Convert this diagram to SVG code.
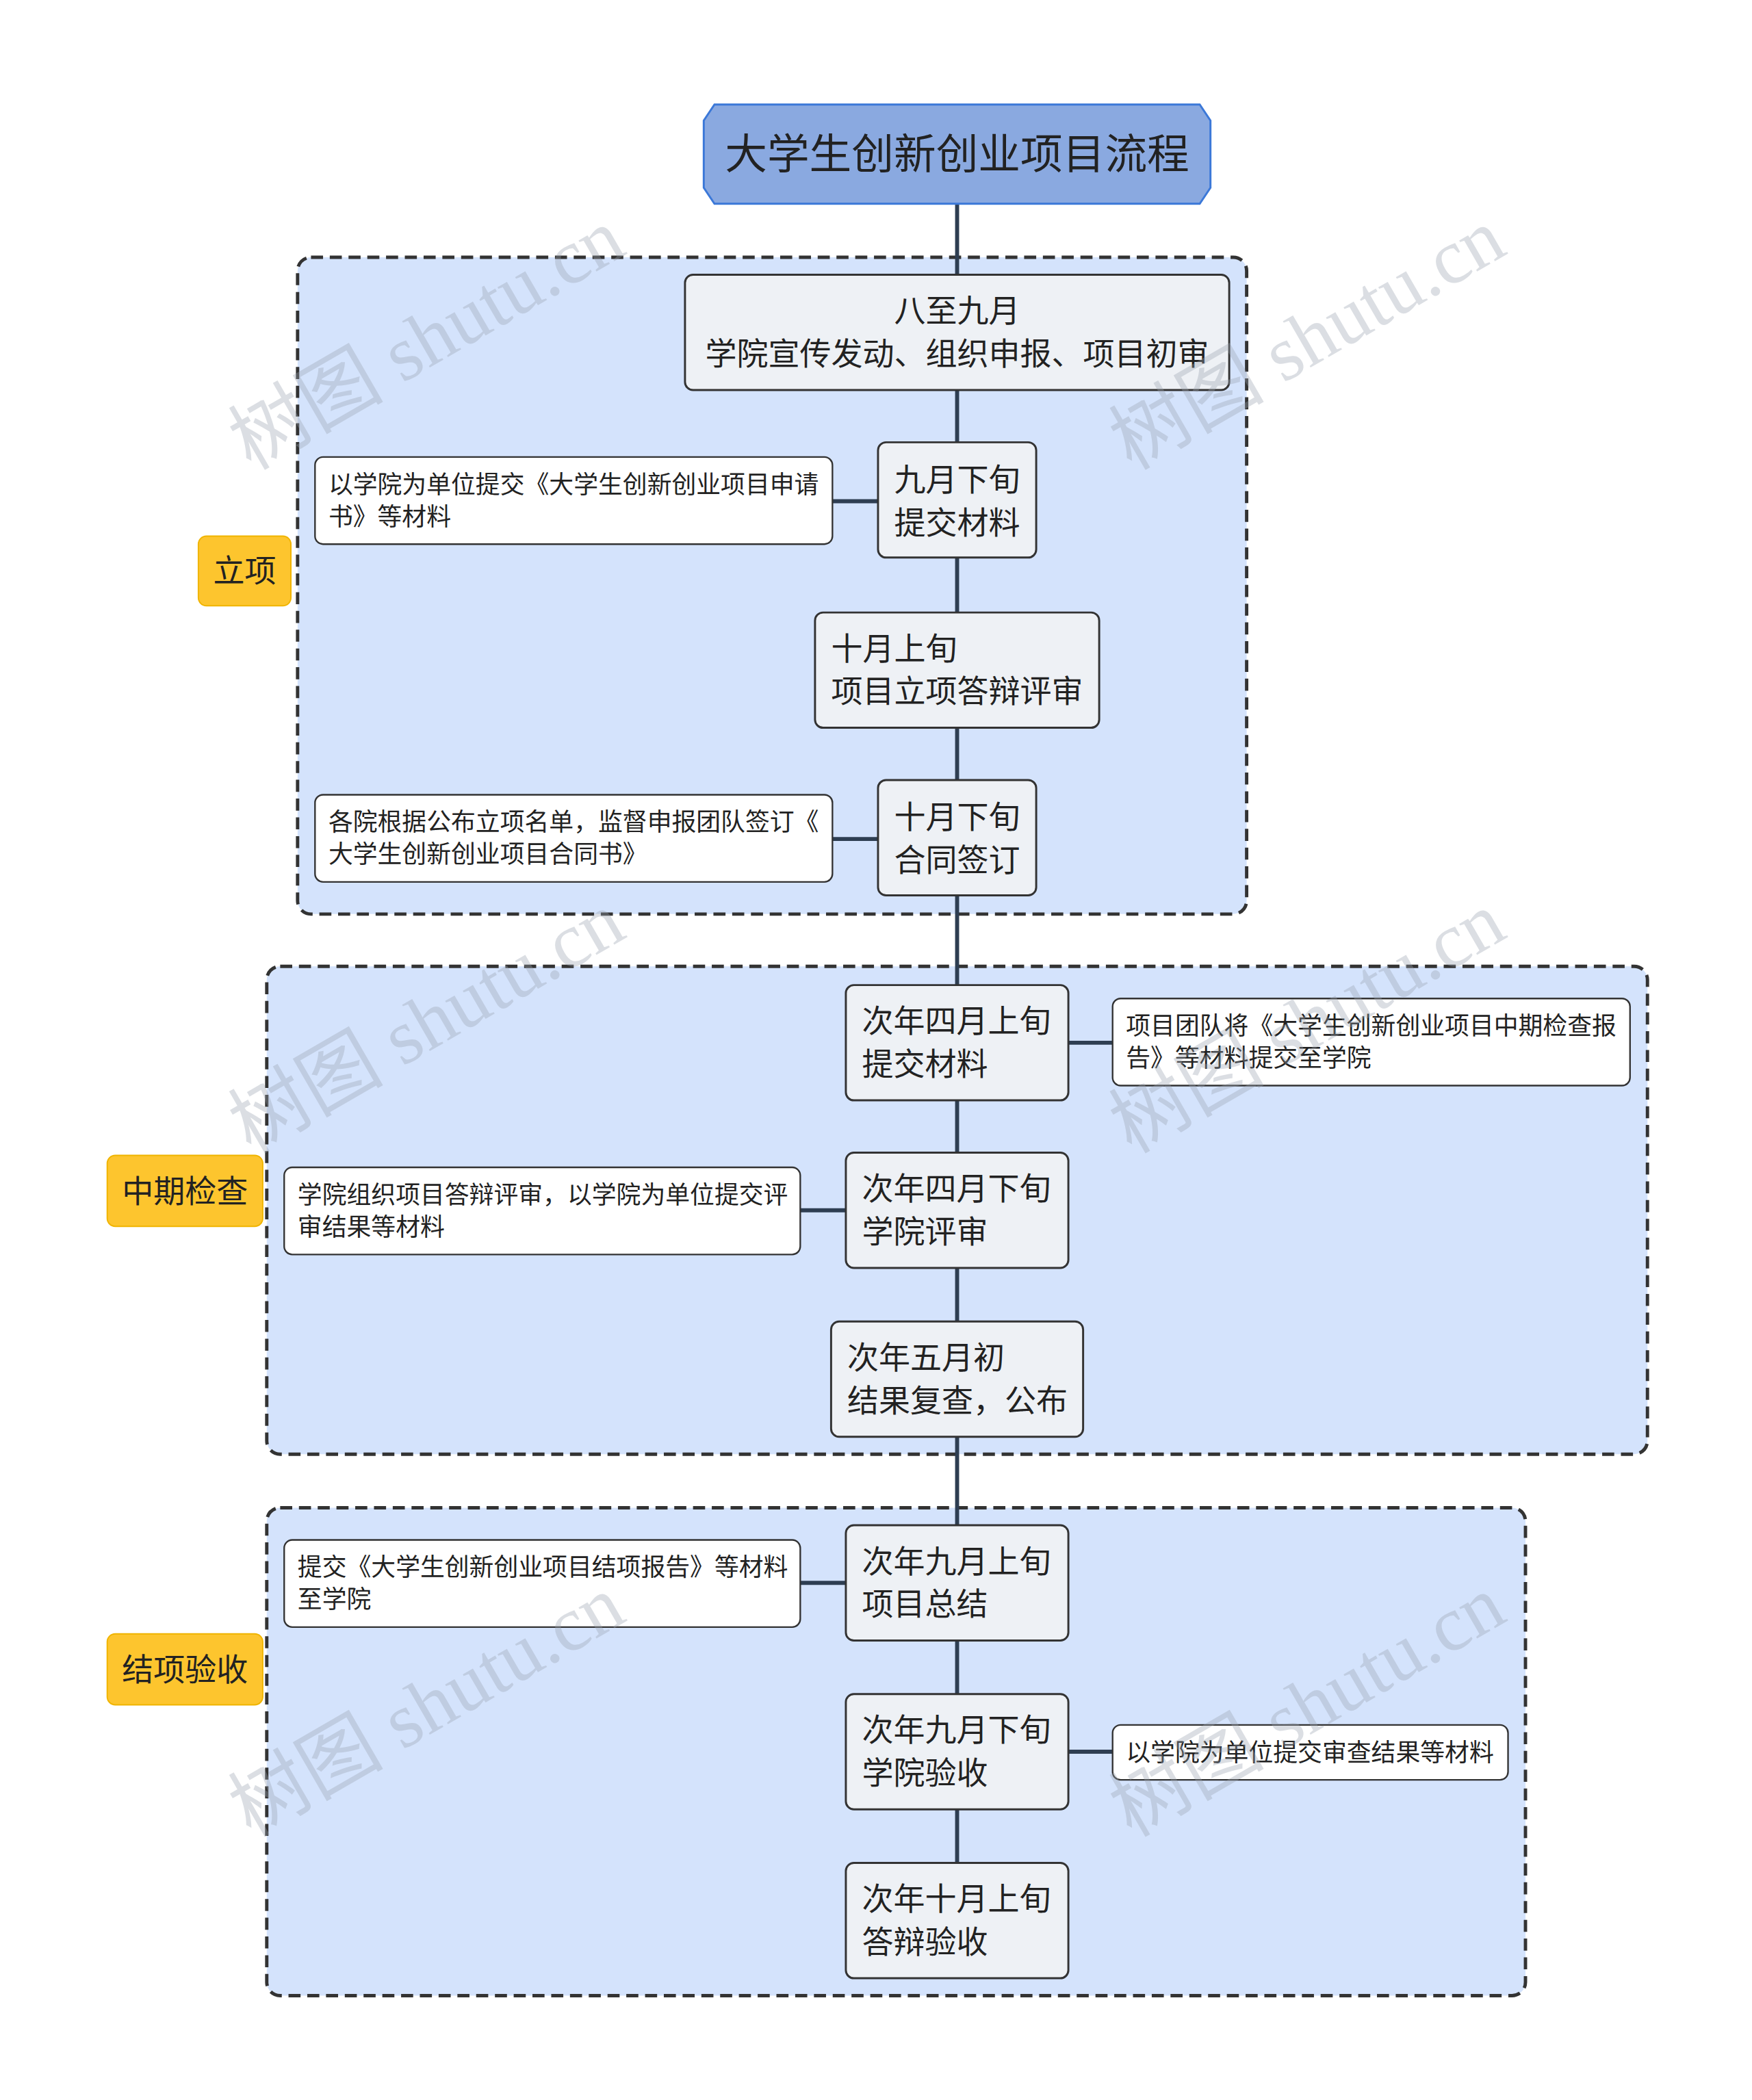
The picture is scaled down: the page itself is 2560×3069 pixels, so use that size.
<svg xmlns="http://www.w3.org/2000/svg" width="2560" height="3069" viewBox="0 0 2560 3069">
<style>
.grp{fill:#d4e3fc;stroke:#333;stroke-width:2.5;stroke-dasharray:9 5}
.lab{fill:#fdc52e;stroke:#f0b400;stroke-width:1}
.nd{fill:#eef1f5;stroke:#333;stroke-width:1.5}
.sd{fill:#fff;stroke:#333;stroke-width:1.2}
.ln{stroke:#2e3e52;stroke-width:3;fill:none}
text{font-family:"Noto Sans CJK SC","Noto Sans",sans-serif;fill:#222}
.t22{font-size:23.5px}
.t17{font-size:18.3px}
.wm{font-family:"Liberation Serif","Noto Sans CJK SC",serif;font-size:58px;fill:#9aa3b0;opacity:0.35}
</style>
<rect width="2560" height="3069" fill="#fff"/>
<g transform="scale(1.9587)">
<g id="groups">
<rect class="grp" x="222" y="192" width="708" height="490" rx="10"/>
<rect class="grp" x="199" y="721" width="1030" height="364" rx="10"/>
<rect class="grp" x="199" y="1125" width="939" height="364" rx="10"/>
</g>
<g id="connectors">
<line class="ln" x1="714" y1="152" x2="714" y2="1390"/>
<line class="ln" x1="621" y1="374" x2="655" y2="374"/>
<line class="ln" x1="621" y1="626" x2="655" y2="626"/>
<line class="ln" x1="797" y1="778" x2="830" y2="778"/>
<line class="ln" x1="597" y1="903" x2="631" y2="903"/>
<line class="ln" x1="597" y1="1181" x2="631" y2="1181"/>
<line class="ln" x1="797" y1="1307" x2="830" y2="1307"/>
</g>
<g id="title">
<polygon points="533,78 895,78 903,90 903,140 895,152 533,152 525,140 525,90" fill="#8aa9e0" stroke="#3b78d8" stroke-width="1.5"/>
<text x="714" y="126" text-anchor="middle" style="font-size:31.5px">大学生创新创业项目流程</text>
</g>
<g id="label1"><rect class="lab" x="148" y="400" width="69" height="52" rx="6"/><text class="t22" x="182.5" y="434" text-anchor="middle">立项</text></g>
<g id="label2"><rect class="lab" x="80" y="862" width="116" height="53" rx="6"/><text class="t22" x="138" y="897" text-anchor="middle">中期检查</text></g>
<g id="label3"><rect class="lab" x="80" y="1219" width="116" height="53" rx="6"/><text class="t22" x="138" y="1254" text-anchor="middle">结项验收</text></g>
<g id="nA"><rect class="nd" x="511" y="205" width="406" height="86" rx="6"/><text class="t22" x="714" y="240" text-anchor="middle">八至九月</text><text class="t22" x="714" y="272" text-anchor="middle">学院宣传发动、组织申报、项目初审</text></g>
<g id="nB"><rect class="nd" x="655" y="330" width="118" height="86" rx="6"/><text class="t22" x="667" y="366">九月下旬</text><text class="t22" x="667" y="398">提交材料</text></g>
<g id="sB"><rect class="sd" x="235" y="341" width="386" height="65" rx="6"/><text class="t17" x="245" y="368">以学院为单位提交《大学生创新创业项目申请</text><text class="t17" x="245" y="392">书》等材料</text></g>
<g id="nC"><rect class="nd" x="608" y="457" width="212" height="86" rx="6"/><text class="t22" x="620" y="492">十月上旬</text><text class="t22" x="620" y="524">项目立项答辩评审</text></g>
<g id="nD"><rect class="nd" x="655" y="582" width="118" height="86" rx="6"/><text class="t22" x="667" y="618">十月下旬</text><text class="t22" x="667" y="650">合同签订</text></g>
<g id="sD"><rect class="sd" x="235" y="593" width="386" height="65" rx="6"/><text class="t17" x="245" y="620">各院根据公布立项名单，监督申报团队签订《</text><text class="t17" x="245" y="644">大学生创新创业项目合同书》</text></g>
<g id="nE"><rect class="nd" x="631" y="735" width="166" height="86" rx="6"/><text class="t22" x="643" y="770">次年四月上旬</text><text class="t22" x="643" y="802">提交材料</text></g>
<g id="sE"><rect class="sd" x="830" y="745" width="386" height="65" rx="6"/><text class="t17" x="840" y="772">项目团队将《大学生创新创业项目中期检查报</text><text class="t17" x="840" y="796">告》等材料提交至学院</text></g>
<g id="nF"><rect class="nd" x="631" y="860" width="166" height="86" rx="6"/><text class="t22" x="643" y="895">次年四月下旬</text><text class="t22" x="643" y="927">学院评审</text></g>
<g id="sF"><rect class="sd" x="212" y="871" width="385" height="65" rx="6"/><text class="t17" x="222" y="898">学院组织项目答辩评审，以学院为单位提交评</text><text class="t17" x="222" y="922">审结果等材料</text></g>
<g id="nG"><rect class="nd" x="620" y="986" width="188" height="86" rx="6"/><text class="t22" x="632" y="1021">次年五月初</text><text class="t22" x="632" y="1053">结果复查，公布</text></g>
<g id="nH"><rect class="nd" x="631" y="1138" width="166" height="86" rx="6"/><text class="t22" x="643" y="1173">次年九月上旬</text><text class="t22" x="643" y="1205">项目总结</text></g>
<g id="sH"><rect class="sd" x="212" y="1149" width="385" height="65" rx="6"/><text class="t17" x="222" y="1176">提交《大学生创新创业项目结项报告》等材料</text><text class="t17" x="222" y="1200">至学院</text></g>
<g id="nI"><rect class="nd" x="631" y="1264" width="166" height="86" rx="6"/><text class="t22" x="643" y="1299">次年九月下旬</text><text class="t22" x="643" y="1331">学院验收</text></g>
<g id="sI"><rect class="sd" x="830" y="1287" width="295" height="41" rx="6"/><text class="t17" x="840" y="1314">以学院为单位提交审查结果等材料</text></g>
<g id="nJ"><rect class="nd" x="631" y="1390" width="166" height="86" rx="6"/><text class="t22" x="643" y="1425">次年十月上旬</text><text class="t22" x="643" y="1457">答辩验收</text></g>
<g id="watermarks">
<text class="wm" transform="translate(328,270) rotate(-30)" text-anchor="middle">树图 shutu.cn</text>
<text class="wm" transform="translate(985,270) rotate(-30)" text-anchor="middle">树图 shutu.cn</text>
<text class="wm" transform="translate(328,780) rotate(-30)" text-anchor="middle">树图 shutu.cn</text>
<text class="wm" transform="translate(985,780) rotate(-30)" text-anchor="middle">树图 shutu.cn</text>
<text class="wm" transform="translate(328,1290) rotate(-30)" text-anchor="middle">树图 shutu.cn</text>
<text class="wm" transform="translate(985,1290) rotate(-30)" text-anchor="middle">树图 shutu.cn</text>
</g>
</g>
</svg>
